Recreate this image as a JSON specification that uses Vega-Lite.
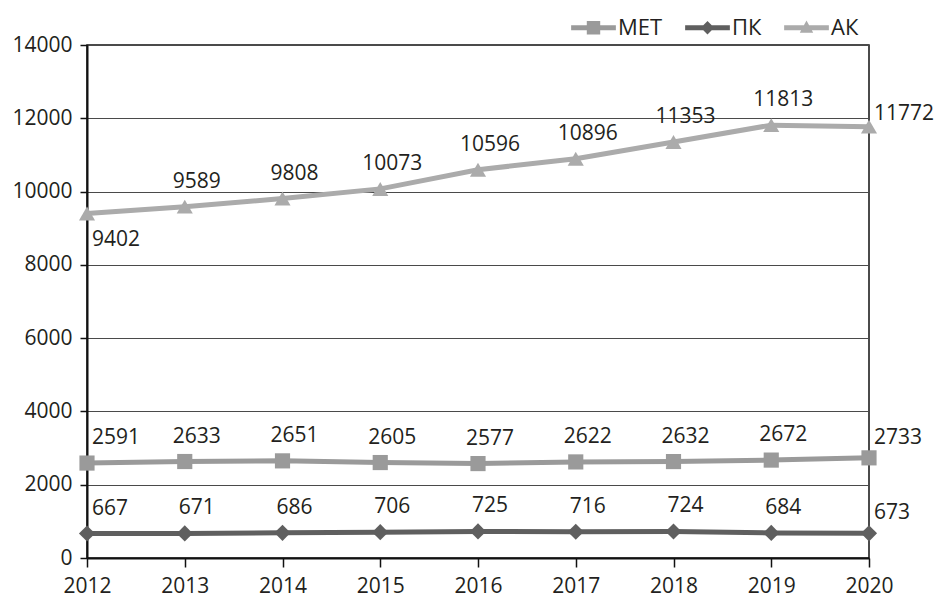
{
  "$schema": "https://vega.github.io/schema/vega-lite/v6.json",
  "autosize": {"type": "none"},
  "padding": {"left": 87, "top": 45, "right": 71, "bottom": 40},
  "width": 782,
  "height": 513,
  "background": "white",
  "config": {
    "font": "Open Sans",
    "view": {"stroke": "#111111", "strokeWidth": 1.5},
    "axis": {"labelFont": "Open Sans", "labelFontSize": 21, "labelColor": "#231f20", "domainColor": "#111111", "domainWidth": 2, "tickColor": "#111111", "tickWidth": 1.5, "tickSize": 7}
  },
  "data": {"values": [
    {"year": "2012", "series": "МЕТ", "value": 2591},
    {"year": "2013", "series": "МЕТ", "value": 2633},
    {"year": "2014", "series": "МЕТ", "value": 2651},
    {"year": "2015", "series": "МЕТ", "value": 2605},
    {"year": "2016", "series": "МЕТ", "value": 2577},
    {"year": "2017", "series": "МЕТ", "value": 2622},
    {"year": "2018", "series": "МЕТ", "value": 2632},
    {"year": "2019", "series": "МЕТ", "value": 2672},
    {"year": "2020", "series": "МЕТ", "value": 2733},
    {"year": "2012", "series": "ПК", "value": 667},
    {"year": "2013", "series": "ПК", "value": 671},
    {"year": "2014", "series": "ПК", "value": 686},
    {"year": "2015", "series": "ПК", "value": 706},
    {"year": "2016", "series": "ПК", "value": 725},
    {"year": "2017", "series": "ПК", "value": 716},
    {"year": "2018", "series": "ПК", "value": 724},
    {"year": "2019", "series": "ПК", "value": 684},
    {"year": "2020", "series": "ПК", "value": 673},
    {"year": "2012", "series": "АК", "value": 9402},
    {"year": "2013", "series": "АК", "value": 9589},
    {"year": "2014", "series": "АК", "value": 9808},
    {"year": "2015", "series": "АК", "value": 10073},
    {"year": "2016", "series": "АК", "value": 10596},
    {"year": "2017", "series": "АК", "value": 10896},
    {"year": "2018", "series": "АК", "value": 11353},
    {"year": "2019", "series": "АК", "value": 11813},
    {"year": "2020", "series": "АК", "value": 11772}
  ]},
  "encoding": {
    "x": {"field": "year", "type": "ordinal", "scale": {"type": "point", "padding": 0}, "axis": {"title": null, "labelAngle": 0, "labelPadding": 8, "tickSize": 9, "grid": false}},
    "y": {"field": "value", "type": "quantitative", "scale": {"domain": [0, 14000], "nice": false}, "axis": {"title": null, "values": [0, 2000, 4000, 6000, 8000, 10000, 12000, 14000], "format": "d", "labelPadding": 8, "grid": true, "gridColor": "#4a4a4a", "gridWidth": 1, "gridOpacity": 1}}
  },
  "layer": [
    {
      "mark": {"type": "line", "strokeWidth": 5},
      "encoding": {
        "color": {"field": "series", "type": "nominal", "scale": {"domain": ["МЕТ", "ПК", "АК"], "range": ["#9a9a9a", "#5f5f5f", "#ababab"]},
          "legend": {"orient": "none", "legendX": 484, "legendY": -40, "direction": "horizontal", "title": null, "labelFont": "Open Sans", "labelFontSize": 22, "labelColor": "#231f20", "symbolSize": 2000, "labelOffset": 2, "columnPadding": 22,
            "encode": {"symbols": {"update": {
              "shape": {"signal": "datum.value === 'МЕТ' ? 'M-1,-0.11H1V0.11H-1Z M-0.3,-0.3H0.3V0.3H-0.3Z' : (datum.value === 'ПК' ? 'M-1,-0.11H1V0.11H-1Z M0,-0.3L0.3,0L0,0.3L-0.3,0Z' : 'M-1,-0.11H1V0.11H-1Z M0,-0.32L0.3,0.22L-0.3,0.22Z')"},
              "fill": {"scale": "color", "field": "value"},
              "stroke": {"value": "transparent"},
              "strokeWidth": {"value": 0},
              "opacity": {"value": 1}
            }}}
          }}
      }
    },
    {
      "transform": [{"filter": "datum.series === 'МЕТ'"}],
      "mark": {"type": "point", "filled": true, "size": 230, "opacity": 1, "shape": "square", "color": "#9a9a9a"}
    },
    {
      "transform": [{"filter": "datum.series === 'ПК'"}],
      "mark": {"type": "point", "filled": true, "size": 260, "opacity": 1, "shape": "diamond", "color": "#5f5f5f"}
    },
    {
      "transform": [{"filter": "datum.series === 'АК'"}],
      "mark": {"type": "point", "filled": true, "size": 260, "opacity": 1, "shape": "triangle-up", "color": "#ababab"}
    },
    {
      "transform": [{"filter": "datum.year !== '2012' && datum.year !== '2020'"}],
      "mark": {"type": "text", "align": "center", "baseline": "middle", "dx": 12, "dy": -25, "fontSize": 21, "font": "Open Sans", "color": "#231f20"},
      "encoding": {"text": {"field": "value", "type": "quantitative", "format": "d"}}
    },
    {
      "transform": [{"filter": "datum.year === '2012' && datum.series !== 'АК'"}],
      "mark": {"type": "text", "align": "left", "baseline": "middle", "dx": 5, "dy": -25, "fontSize": 21, "font": "Open Sans", "color": "#231f20"},
      "encoding": {"text": {"field": "value", "type": "quantitative", "format": "d"}}
    },
    {
      "transform": [{"filter": "datum.year === '2012' && datum.series === 'АК'"}],
      "mark": {"type": "text", "align": "left", "baseline": "middle", "dx": 5, "dy": 27, "fontSize": 21, "font": "Open Sans", "color": "#231f20"},
      "encoding": {"text": {"field": "value", "type": "quantitative", "format": "d"}}
    },
    {
      "transform": [{"filter": "datum.year === '2020' && datum.series !== 'АК'"}],
      "mark": {"type": "text", "align": "left", "baseline": "middle", "dx": 5, "dy": -20, "fontSize": 21, "font": "Open Sans", "color": "#231f20"},
      "encoding": {"text": {"field": "value", "type": "quantitative", "format": "d"}}
    },
    {
      "transform": [{"filter": "datum.year === '2020' && datum.series === 'АК'"}],
      "mark": {"type": "text", "align": "left", "baseline": "middle", "dx": 5, "dy": -13, "fontSize": 21, "font": "Open Sans", "color": "#231f20"},
      "encoding": {"text": {"field": "value", "type": "quantitative", "format": "d"}}
    }
  ]
}
